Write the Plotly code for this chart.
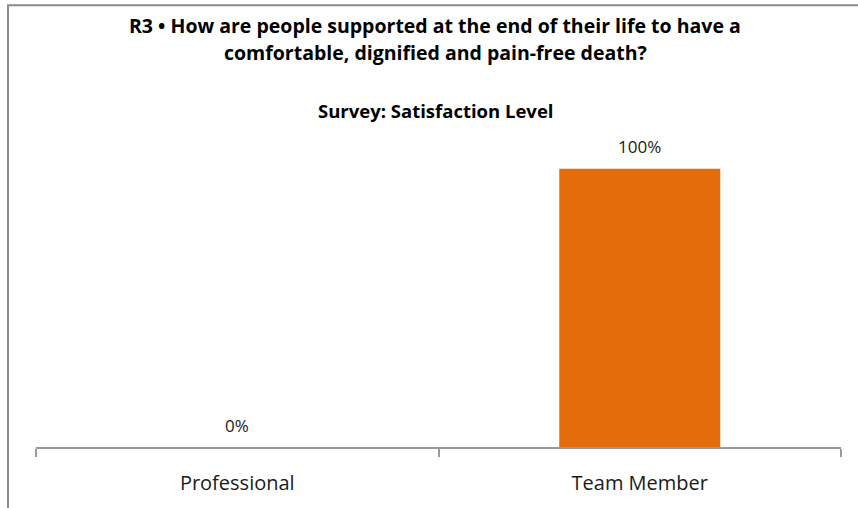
import plotly.graph_objects as go

# Survey results
categories = ["Professional", "Team Member"]
satisfaction_pct = [0, 100]

title_lines = [
    "R3 • How are people supported at the end of their life to have a",
    "comfortable, dignified and pain-free death?",
]
subtitle = "Survey: Satisfaction Level"

W, H = 858, 508
M_L, M_R, M_T, M_B = 36, 17, 113, 57
PLOT_H = H - M_T - M_B
PLOT_W = W - M_L - M_R
FONT = "Open Sans"
TEXT_COLOR = "#1a1a1a"


def py(px_y):
    """Convert a pixel row (from the top of the page) to paper y."""
    return (H - M_B - px_y) / PLOT_H


def px(px_x):
    """Convert a pixel column to paper x."""
    return (px_x - M_L) / PLOT_W


fig = go.Figure(
    go.Bar(
        x=categories,
        y=satisfaction_pct,
        marker=dict(color="#E46C0A", line=dict(width=0)),
        width=0.4,
        hoverinfo="x+y",
    )
)

TITLE_X = px(435)
annotations = [
    dict(text=f"<b>{title_lines[0]}</b>", x=TITLE_X, y=py(24), font_size=19.5),
    dict(text=f"<b>{title_lines[1]}</b>", x=TITLE_X, y=py(52), font_size=19.5),
    dict(text=f"<b>{subtitle}</b>", x=TITLE_X, y=py(110), font_size=18.5),
]
for a in annotations:
    size = a.pop("font_size")
    a.update(xref="paper", yref="paper", xanchor="center", yanchor="middle",
             showarrow=False, font=dict(family=FONT, size=size, color="#000000"))

# value labels sitting above each bar
for cat, val in zip(categories, satisfaction_pct):
    annotations.append(dict(
        x=cat, y=val, xref="x", yref="y", text=f"{val}%",
        showarrow=False, xanchor="center", yanchor="middle", yshift=22,
        font=dict(family=FONT, size=17, color=TEXT_COLOR),
    ))

fig.update_layout(
    width=W,
    height=H,
    margin=dict(l=M_L, r=M_R, t=M_T, b=M_B),
    paper_bgcolor="white",
    plot_bgcolor="white",
    showlegend=False,
    annotations=annotations,
    shapes=[
        dict(type="rect", xref="paper", yref="paper",
             x0=px(8), x1=px(W + 20), y0=py(H + 20), y1=py(4),
             line=dict(color="#8c8c8c", width=2), fillcolor="rgba(0,0,0,0)",
             layer="below"),
    ],
    xaxis=dict(
        type="category",
        showline=True,
        linecolor="#9a9a9a",
        linewidth=2,
        ticks="outside",
        tickson="boundaries",
        ticklen=8,
        tickwidth=2,
        tickcolor="#9a9a9a",
        showgrid=False,
        tickfont=dict(family=FONT, size=20, color=TEXT_COLOR),
        ticklabelstandoff=17,
    ),
    yaxis=dict(
        range=[0, 120],
        visible=False,
        showgrid=False,
        zeroline=False,
    ),
)

fig.write_html("out.html")
